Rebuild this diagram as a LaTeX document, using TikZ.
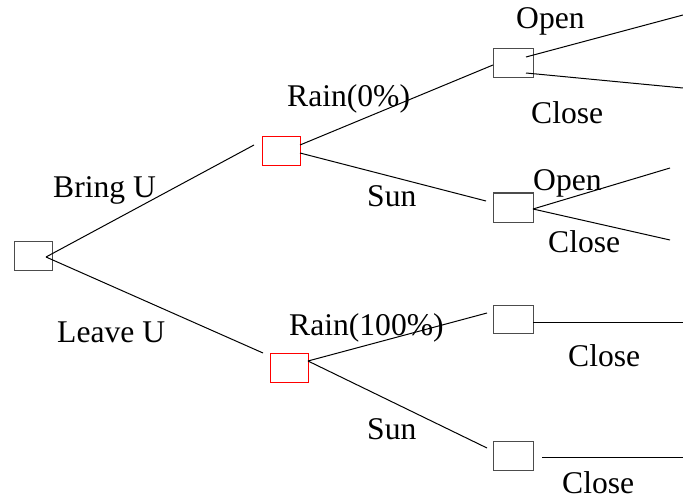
\documentclass[tikz,border=0pt]{standalone}
\usepackage{fontspec}
\setmainfont{Liberation Serif}
\begin{document}
\begin{tikzpicture}[x=1pt,y=-1pt,
  box/.style={draw=black!70,line width=1pt},
  chance/.style={draw=red,line width=1pt},
  lbl/.style={anchor=base west,inner sep=0pt,font=\fontsize{31.6}{36}\selectfont},
  edge/.style={line width=1pt}]
\useasboundingbox (0,0) rectangle (683,500);
% boxes
\draw[box] (14,241) rectangle (52,270);
\draw[chance] (262,137) rectangle (300,166);
\draw[chance] (270,353) rectangle (308,382);
\draw[box] (493,49) rectangle (533,78);
\draw[box] (493,193) rectangle (533,222);
\draw[box] (493,305) rectangle (533,333);
\draw[box] (493,441) rectangle (533,470);
% anchor coordinates
\coordinate (r) at (46,257);
\coordinate (c1in) at (254,145);
\coordinate (c2in) at (263,353);
\coordinate (c1a) at (300,145);
\coordinate (c1b) at (300,153);
\coordinate (c2o) at (308,361);
\coordinate (d1in) at (493,65);
\coordinate (d2in) at (486,201);
\coordinate (d3in) at (487,313);
\coordinate (d4in) at (487,448);
\coordinate (d1a) at (526,57);
\coordinate (d1b) at (526,73);
\coordinate (d2o) at (533,209);
\coordinate (d3o) at (533,322);
\coordinate (d4o) at (542,457);
\coordinate (e1) at (683,15);
\coordinate (e2) at (683,88);
\coordinate (e3) at (670,168);
\coordinate (e4) at (670,240);
\coordinate (e5) at (683,322);
\coordinate (e6) at (683,457);
% edges
\draw[edge] (r) -- (c1in);
\draw[edge] (r) -- (c2in);
\draw[edge] (c1a) -- (d1in);
\draw[edge] (c1b) -- (d2in);
\draw[edge] (c2o) -- (d3in);
\draw[edge] (c2o) -- (d4in);
\draw[edge] (d1a) -- (e1);
\draw[edge] (d1b) -- (e2);
\draw[edge] (d2o) -- (e3);
\draw[edge] (d2o) -- (e4);
\draw[edge] (d3o) -- (e5);
\draw[edge] (d4o) -- (e6);
% labels
\node[lbl] (l1) at (53,197) {Bring U};
\node[lbl] (l2) at (57,342) {Leave U};
\node[lbl] (l3) at (287,107) {Rain(0\%)};
\node[lbl] (l4) at (367,206) {Sun};
\node[lbl] (l5) at (289,335) {Rain(100\%)};
\node[lbl] (l6) at (367,439) {Sun};
\node[lbl] (l7) at (516,29) {Open};
\node[lbl] (l8) at (531,124) {Close};
\node[lbl] (l9) at (533,190) {Open};
\node[lbl] (l10) at (548,252) {Close};
\node[lbl] (l11) at (568,366) {Close};
\node[lbl] (l12) at (562,493) {Close};
\end{tikzpicture}
\end{document}
